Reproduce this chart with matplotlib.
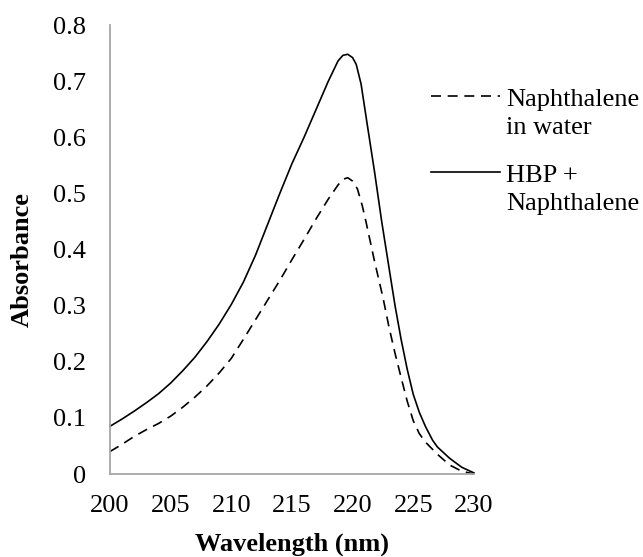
import matplotlib.pyplot as plt

plt.rcParams["font.family"] = ["Liberation Serif", "DejaVu Serif"]

wl_water = [200, 201, 202, 203, 204, 205, 206, 207, 208, 209, 210, 211, 212, 213, 214, 215,
            216, 217, 218, 218.8, 219.2, 219.6, 220, 220.4, 220.8, 221.1, 221.8, 222.5, 223,
            223.5, 224, 224.5, 225, 225.5, 226, 227, 228, 229, 230]
abs_water = [0.040, 0.053, 0.067, 0.079, 0.090, 0.103, 0.119, 0.137, 0.157, 0.180, 0.206,
             0.240, 0.275, 0.310, 0.345, 0.382, 0.418, 0.455, 0.490, 0.515, 0.525, 0.528,
             0.522, 0.508, 0.478, 0.450, 0.380, 0.315, 0.262, 0.215, 0.172, 0.130, 0.095,
             0.072, 0.057, 0.035, 0.016, 0.005, 0.0]

wl_hbp = [200, 201, 202, 203, 204, 205, 206, 207, 208, 209, 210, 211, 212, 213, 214, 215,
          216, 217, 218, 218.8, 219.2, 219.6, 220, 220.3, 220.7, 221.2, 221.8, 222.4, 223,
          223.5, 224, 224.5, 225, 225.5, 226, 226.6, 227, 228, 229, 230]
abs_hbp = [0.085, 0.098, 0.112, 0.127, 0.143, 0.162, 0.184, 0.208, 0.236, 0.267, 0.302,
           0.342, 0.390, 0.445, 0.500, 0.553, 0.600, 0.650, 0.700, 0.736, 0.746, 0.748,
           0.742, 0.730, 0.695, 0.624, 0.540, 0.450, 0.368, 0.300, 0.240, 0.187, 0.142,
           0.110, 0.085, 0.060, 0.048, 0.028, 0.012, 0.002]

xticks = [200, 205, 210, 215, 220, 225, 230]
yticks = [0, 0.1, 0.2, 0.3, 0.4, 0.5, 0.6, 0.7, 0.8]
ytick_labels = ["0", "0.1", "0.2", "0.3", "0.4", "0.5", "0.6", "0.7", "0.8"]

fig = plt.figure(figsize=(6.43, 5.57), dpi=100)
ax = fig.add_axes([0.171, 0.149, 0.566, 0.806])

ax.plot(wl_water, abs_water, color="black", lw=1.2, ls=(0, (6, 4)),
        label="Naphthalene\nin water", clip_on=False)
ax.plot(wl_hbp, abs_hbp, color="black", lw=1.2,
        label="HBP +\nNaphthalene", clip_on=False)

ax.set_xlim(200, 230)
ax.set_ylim(0, 0.8)
ax.set_xticks(xticks)
ax.set_yticks(yticks)
ax.set_yticklabels(ytick_labels)
ax.tick_params(length=0, labelsize=19)
ax.tick_params(axis="y", pad=17)
ax.tick_params(axis="x", pad=15)

for s in ["top", "right"]:
    ax.spines[s].set_visible(False)
for s in ["left", "bottom"]:
    ax.spines[s].set_color("#a6a6a6")
    ax.spines[s].set_linewidth(1.3)

ax.set_xlabel("Wavelength (nm)", fontsize=19, fontweight="bold")
ax.set_ylabel("Absorbance", fontsize=19, fontweight="bold")
ax.xaxis.set_label_coords(0.5, -0.13)
ax.yaxis.set_label_coords(-0.21, 0.477)

leg = ax.legend(loc="upper left", bbox_to_anchor=(431 / 643, 0.84),
                bbox_transform=fig.transFigure, frameon=False, fontsize=19,
                borderpad=0, borderaxespad=0, handlelength=2.6,
                handletextpad=0.25, labelspacing=0.98)
for t in leg.get_texts():
    t.set_linespacing(1.35)
# put each key on the first line of its label
for ln in leg.get_lines():
    ln.set_ydata([y + 12.5 for y in ln.get_ydata()])

fig.savefig("out.png")
